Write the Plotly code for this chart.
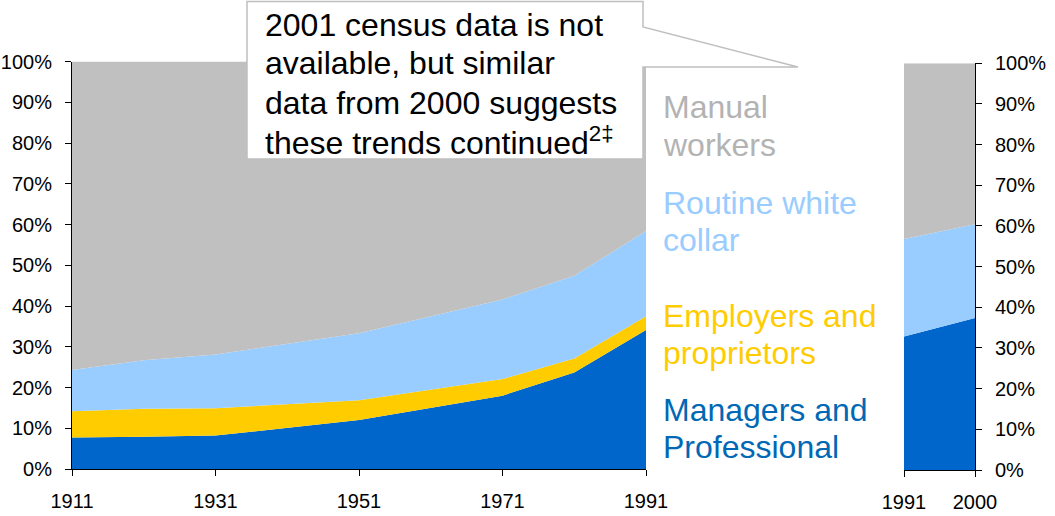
import plotly.graph_objects as go

# ---- data (percent of workforce) ----
years = [1911, 1921, 1931, 1951, 1971, 1981, 1991]
managers = [7.7, 7.9, 8.2, 12.0, 18.0, 23.7, 34.1]
employers = [6.5, 6.9, 6.7, 4.9, 4.1, 3.4, 3.4]
routine = [10.1, 11.9, 13.2, 16.4, 19.5, 20.3, 20.9]
manual = [75.7, 73.3, 71.9, 66.7, 58.4, 52.6, 41.6]

years_b = [1991, 2000]
managers_b = [32.8, 37.4]
routine_b = [24.0, 23.0]
manual_b = [43.2, 39.6]

x_ticks_left = [1911, 1931, 1951, 1971, 1991]
x_ticks_right = [1991, 2000]
y_ticks = list(range(0, 101, 10))
y_tick_labels = [f"{v}%" for v in y_ticks]

series_labels = [
    ("Manual", "workers"),
    ("Routine white", "collar"),
    ("Employers and", "proprietors"),
    ("Managers and", "Professional"),
]
callout_lines = [
    "2001 census data is not",
    "available, but similar",
    "data from 2000 suggests",
    "these trends continued<sup>2‡</sup>",
]

C_MAN = "#0066CC"
C_EMP = "#FFCC00"
C_ROU = "#99CCFF"
C_MANUAL = "#C0C0C0"
FONT = "Liberation Sans, Arial, sans-serif"

W, H = 1055, 516


def px(x):
    return x / W


def py(y):
    return 1 - y / H


fig = go.Figure()

for vals, col in [(managers, C_MAN), (employers, C_EMP), (routine, C_ROU), (manual, C_MANUAL)]:
    fig.add_trace(go.Scatter(x=years, y=vals, stackgroup="a", mode="none",
                             fillcolor=col, line=dict(width=0),
                             showlegend=False, xaxis="x", yaxis="y"))

for vals, col in [(managers_b, C_MAN), (routine_b, C_ROU), (manual_b, C_MANUAL)]:
    fig.add_trace(go.Scatter(x=years_b, y=vals, stackgroup="b", mode="none",
                             fillcolor=col, line=dict(width=0),
                             showlegend=False, xaxis="x2", yaxis="y2"))


def axis_common():
    return dict(showgrid=False, zeroline=False, showline=True, linecolor="black",
                linewidth=1, ticks="outside", ticklen=6, tickcolor="black",
                automargin=False,
                tickfont=dict(family=FONT, size=20, color="black"))


fig.update_layout(
    width=W, height=H,
    autosize=False,
    showlegend=False,
    margin=dict(l=0, r=0, t=0, b=0, pad=0, autoexpand=False),
    paper_bgcolor="white", plot_bgcolor="white",
    font=dict(family=FONT, size=20, color="black"),
    xaxis=dict(domain=[px(72), px(646)], range=[1911, 1991], tickmode="array",
               tickvals=x_ticks_left, ticktext=[str(v) for v in x_ticks_left],
               anchor="y", ticklabelstandoff=8, **axis_common()),
    yaxis=dict(domain=[py(469), py(61.5)], range=[0, 100], tickmode="array",
               tickvals=y_ticks, ticktext=y_tick_labels,
               anchor="x", ticklabelstandoff=9, **axis_common()),
    xaxis2=dict(domain=[px(904), px(975)], range=[1991, 2000], tickmode="array",
                tickvals=x_ticks_right, ticktext=[str(v) for v in x_ticks_right],
                anchor="y2", ticklabelstandoff=8, **axis_common()),
    yaxis2=dict(domain=[py(470), py(63.3)], range=[0, 100], tickmode="array",
                tickvals=y_ticks, ticktext=y_tick_labels,
                anchor="x2", side="right", ticklabelstandoff=9, **axis_common()),
)

# callout box
path = (f"M {px(247)},{py(1.5)} L {px(643)},{py(1.5)} L {px(643)},{py(27)} "
        f"L {px(798)},{py(67)} L {px(643)},{py(67)} L {px(643)},{py(159)} "
        f"L {px(247)},{py(159)} Z")
fig.add_shape(type="path", path=path, xref="paper", yref="paper",
              fillcolor="white", line=dict(color="#BFBFBF", width=1.5), layer="above")

annotations = []
for line, yc in zip(callout_lines, [25, 63, 103, 141]):
    annotations.append(dict(text=line, x=px(262.5), y=py(yc), xref="paper", yref="paper",
                            xanchor="left", yanchor="middle", showarrow=False,
                            font=dict(family=FONT, size=32, color="black")))

label_colors = ["#B3B3B3", "#99CCFF", "#FFCC00", "#0068B4"]
label_y = [(107, 145), (203, 240), (316, 353), (410, 447)]
for (l1, l2), col, (y1, y2) in zip(series_labels, label_colors, label_y):
    for t, yy in [(l1, y1), (l2, y2)]:
        annotations.append(dict(text=t, x=px(660.5), y=py(yy), xref="paper", yref="paper",
                                xanchor="left", yanchor="middle", showarrow=False,
                                font=dict(family=FONT, size=32, color=col)))

fig.update_layout(annotations=annotations)

# remove the browser's default 8px body margin so the figure fills the window
fig.write_html("out.html",
               config={"displayModeBar": False},
               post_script="document.body.style.margin='0';document.body.style.overflow='hidden';")
